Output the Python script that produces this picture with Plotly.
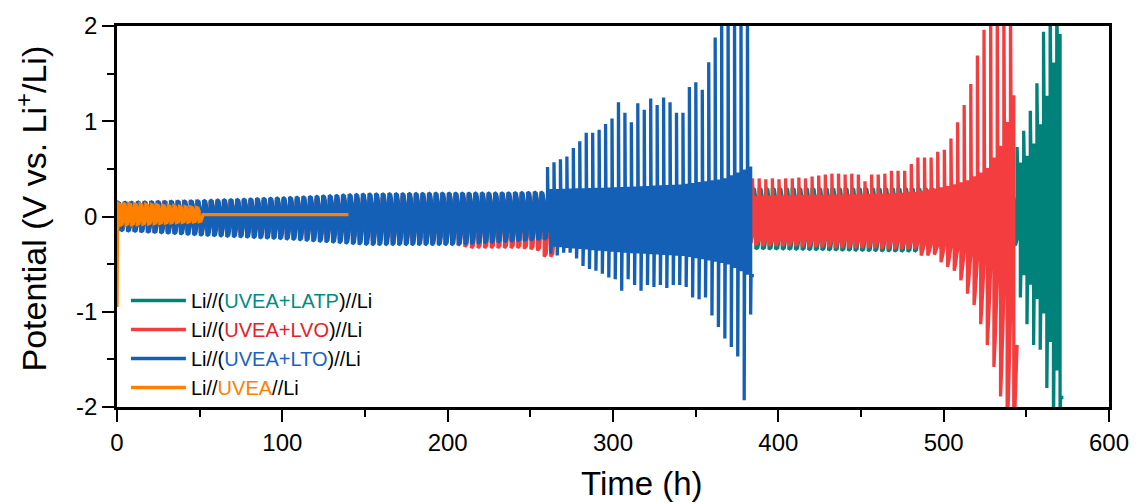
import numpy as np
import plotly.graph_objects as go

# ---------------- data ----------------
PERIOD = 4.0          # h per charge/discharge cycle (tooth spacing)

# Li//UVEA//Li (orange)
uvea_start_v   = -0.95
uvea_env_t     = [0, 25, 52]
uvea_env_up    = [0.14, 0.12, 0.09]
uvea_env_upb   = [0.07, 0.06, 0.05]
uvea_env_dn    = [-0.09, -0.07, -0.05]
uvea_env_dnb   = [-0.03, -0.03, -0.02]
uvea_period    = 3.4
uvea_cycles    = 15
uvea_short_t   = [52.0, 140.0]
uvea_short_v   = [0.02, 0.02]

# Li//(UVEA+LTO)//Li (blue) - stable part (envelope)
lto_env_t      = [0, 50, 100, 150, 200, 230, 256]
lto_env_up     = [0.15, 0.17, 0.20, 0.24, 0.25, 0.25, 0.26]
lto_env_upb    = [0.07, 0.08, 0.10, 0.13, 0.14, 0.15, 0.15]
lto_env_dn     = [-0.15, -0.20, -0.24, -0.30, -0.30, -0.27, -0.24]
lto_env_dnb    = [-0.07, -0.10, -0.12, -0.15, -0.16, -0.14, -0.14]
lto_env_cycles = 65
# blue - failing part (cycle by cycle)
lto_spk_t0     = 260.4
lto_spk_period = 3.9
lto_spk_up = [0.52, 0.57, 0.60, 0.63, 0.72, 0.79, 0.88, 0.88, 0.91, 0.97, 1.03,
              1.20, 1.09, 0.99, 1.19, 1.12, 1.24, 1.17, 1.25, 1.20, 1.09, 1.09,
              1.36, 1.41, 1.33, 1.62, 1.88, 2.3, 2.3, 2.3, 2.3, 2.3]
lto_spk_dn = [-0.39, -0.41, -0.38, -0.38, -0.44, -0.52, -0.55, -0.57, -0.60,
              -0.64, -0.66, -0.78, -0.66, -0.72, -0.78, -0.72, -0.74, -0.72,
              -0.75, -0.72, -0.72, -0.74, -0.85, -0.87, -0.85, -1.04, -1.16,
              -1.28, -1.37, -1.47, -1.93, -1.03]
lto_core_t     = [260, 300, 340, 365, 378, 386]
lto_core_up    = [0.27, 0.29, 0.32, 0.38, 0.48, 0.55]
lto_core_dn    = [-0.30, -0.36, -0.40, -0.48, -0.60, -0.65]

# Li//(UVEA+LVO)//Li (red) - stable part (envelope, mostly under blue)
lvo_env_t      = [0, 100, 200, 212, 240, 252, 256, 261, 264, 300, 384]
lvo_env_up     = [0.13, 0.18, 0.23, 0.23, 0.23, 0.23, 0.24, 0.24, 0.25, 0.25, 0.25]
lvo_env_upb    = [0.06, 0.09, 0.13, 0.13, 0.13, 0.13, 0.14, 0.14, 0.15, 0.18, 0.20]
lvo_env_dn     = [-0.13, -0.22, -0.29, -0.33, -0.33, -0.35, -0.42, -0.42, -0.28, -0.28, -0.28]
lvo_env_dnb    = [-0.06, -0.10, -0.14, -0.15, -0.15, -0.15, -0.20, -0.20, -0.20, -0.20, -0.20]
lvo_env_cycles = 96
# red - visible part (cycle by cycle)
lvo_spk_t0     = 384.4
lvo_spk_up = [0.40, 0.40, 0.39, 0.40, 0.39, 0.40, 0.40, 0.41, 0.40, 0.42, 0.43,
              0.44, 0.45, 0.45, 0.44, 0.45, 0.44, 0.37, 0.44, 0.44, 0.45, 0.48,
              0.48, 0.48, 0.55, 0.62, 0.62, 0.62, 0.68, 0.70, 0.82, 0.99, 1.17,
              1.39, 1.69, 1.96, 2.3, 2.3, 2.3, 2.3]
lvo_spk_dn = [-0.30, -0.31, -0.31, -0.31, -0.31, -0.31, -0.31, -0.32, -0.32,
              -0.32, -0.32, -0.32, -0.33, -0.33, -0.33, -0.33, -0.33, -0.33,
              -0.33, -0.34, -0.34, -0.34, -0.34, -0.34, -0.34, -0.41, -0.41,
              -0.40, -0.48, -0.53, -0.57, -0.67, -0.81, -0.93, -1.13, -1.35,
              -1.58, -1.89, -2.3, -2.3]
lvo_core_t     = [384, 420, 460, 480, 500, 512, 524, 532, 540, 545]
lvo_core_up    = [0.20, 0.21, 0.22, 0.24, 0.30, 0.36, 0.48, 0.70, 1.20, 1.90]
lvo_core_dn    = [-0.24, -0.24, -0.25, -0.27, -0.32, -0.40, -0.55, -0.80, -1.30, -1.90]

# Li//(UVEA+LATP)//Li (teal) - stable part (envelope, mostly under red)
latp_env_t     = [0, 100, 200, 380, 384, 480, 500, 544]
latp_env_up    = [0.12, 0.15, 0.18, 0.20, 0.30, 0.30, 0.30, 0.30]
latp_env_upb   = [0.06, 0.08, 0.12, 0.14, 0.18, 0.18, 0.18, 0.18]
latp_env_dn    = [-0.12, -0.18, -0.24, -0.25, -0.34, -0.37, -0.30, -0.30]
latp_env_dnb   = [-0.06, -0.08, -0.12, -0.15, -0.24, -0.24, -0.24, -0.24]
latp_env_cycles = 136
# teal - visible part (cycle by cycle)
latp_spk_t0    = 544.4
latp_spk_up    = [0.73, 0.90, 1.11, 1.40, 1.94, 2.3, 2.3]
latp_spk_dn    = [-0.85, -1.13, -1.35, -1.40, -1.80, -2.3, -2.3]
latp_core_up   = [0.55, 0.62, 0.75, 0.95, 1.25, 1.60, 1.90]
latp_core_dn   = [-0.60, -0.70, -0.85, -1.00, -1.30, -1.60, -1.90]

x_ticks = [0, 100, 200, 300, 400, 500, 600]
x_ticktext = ["0", "100", "200", "300", "400", "500", "600"]
y_ticks = [-2, -1, 0, 1, 2]
y_ticktext = ["-2", "-1", "0", "1", "2"]

# ---------------- helpers ----------------
def cycles(t0, period, up_a, up_c, dn_a, dn_c, f_up, f_dn, hold_up, hold_dn):
    """Each half cycle: jump to a, ease to b (held part) by f*h, reach c at end."""
    xs, ys = [], []
    h = period / 2.0
    for k in range(len(up_a)):
        t = t0 + k * period
        ub = up_a[k] + hold_up * (up_c[k] - up_a[k])
        db = dn_a[k] + hold_dn * (dn_c[k] - dn_a[k])
        xs += [t, t + f_up * h, t + h, t + h, t + h + f_dn * h, t + period]
        ys += [up_a[k], ub, up_c[k], dn_a[k], db, dn_c[k]]
    return xs, ys


def env_vals(t0, period, n, et, ev):
    tk = t0 + period * np.arange(n)
    return np.interp(tk, et, ev)


def env_cycles(t0, period, n, et, eu, eub, ed, edb):
    return cycles(t0, period,
                  env_vals(t0, period, n, et, eu), env_vals(t0, period, n, et, eub),
                  env_vals(t0, period, n, et, ed), env_vals(t0, period, n, et, edb),
                  0.6, 0.6, 0.15, 0.15)

# LTO
bx1, by1 = env_cycles(0.4, PERIOD, lto_env_cycles, lto_env_t, lto_env_up,
                      lto_env_upb, lto_env_dn, lto_env_dnb)
n = len(lto_spk_up)
bx2, by2 = cycles(lto_spk_t0, lto_spk_period, lto_spk_up,
                  env_vals(lto_spk_t0, lto_spk_period, n, lto_core_t, lto_core_up),
                  lto_spk_dn,
                  env_vals(lto_spk_t0, lto_spk_period, n, lto_core_t, lto_core_dn),
                  0.12, 0.12, 1.0, 1.0)
lto_x = [0.0] + bx1 + bx2
lto_y = [-0.3] + by1 + by2

# LVO
rx1, ry1 = env_cycles(0.4, PERIOD, lvo_env_cycles, lvo_env_t, lvo_env_up,
                      lvo_env_upb, lvo_env_dn, lvo_env_dnb)
n = len(lvo_spk_up)
rx2, ry2 = cycles(lvo_spk_t0, PERIOD, lvo_spk_up,
                  env_vals(lvo_spk_t0, PERIOD, n, lvo_core_t, lvo_core_up),
                  lvo_spk_dn,
                  env_vals(lvo_spk_t0, PERIOD, n, lvo_core_t, lvo_core_dn),
                  0.15, 0.35, 1.0, 0.3)
lvo_x = rx1 + rx2
lvo_y = ry1 + ry2

# LATP
tx1, ty1 = env_cycles(0.4, PERIOD, latp_env_cycles, latp_env_t, latp_env_up,
                      latp_env_upb, latp_env_dn, latp_env_dnb)
tx2, ty2 = cycles(latp_spk_t0, PERIOD, latp_spk_up, latp_core_up,
                  latp_spk_dn, latp_core_dn, 0.15, 0.15, 1.0, 1.0)
latp_x = tx1 + tx2
latp_y = ty1 + ty2

# UVEA
ox1, oy1 = env_cycles(0.4, uvea_period, uvea_cycles, uvea_env_t, uvea_env_up,
                      uvea_env_upb, uvea_env_dn, uvea_env_dnb)
uvea_x = [0.0] + ox1 + uvea_short_t
uvea_y = [uvea_start_v] + oy1 + uvea_short_v

C_LATP = "#00827A"
C_LVO = "#F43D3F"
C_LTO = "#1460B6"
C_UVEA = "#FF8000"

LW = 3.3
fig = go.Figure()
fig.add_trace(go.Scatter(x=latp_x, y=latp_y, mode="lines",
                         line=dict(color=C_LATP, width=LW, simplify=False),
                         name='Li//(<span style="color:#008C82">UVEA+LATP</span>)//Li'))
fig.add_trace(go.Scatter(x=lvo_x, y=lvo_y, mode="lines",
                         line=dict(color=C_LVO, width=LW, simplify=False),
                         name='Li//(<span style="color:#E8202A">UVEA+LVO</span>)//Li'))
fig.add_trace(go.Scatter(x=lto_x, y=lto_y, mode="lines",
                         line=dict(color=C_LTO, width=LW, simplify=False),
                         name='Li//(<span style="color:#1A64BE">UVEA+LTO</span>)//Li'))
fig.add_trace(go.Scatter(x=uvea_x, y=uvea_y, mode="lines",
                         line=dict(color=C_UVEA, width=LW, simplify=False),
                         name='Li//<span style="color:#FF8000">UVEA</span>//Li'))

axis_common = dict(showline=True, linecolor="black", linewidth=2.5, mirror=True,
                   ticks="outside", ticklen=12, tickwidth=2, tickcolor="black",
                   showgrid=False, zeroline=False,
                   tickfont=dict(family="Liberation Sans, Arial", size=24, color="black"))

fig.update_layout(
    width=1141, height=503,
    margin=dict(l=117, r=32, t=24, b=96),
    paper_bgcolor="white", plot_bgcolor="white",
    font=dict(family="Liberation Sans, Arial", color="black"),
    xaxis=dict(range=[0, 600], tickvals=x_ticks, ticktext=x_ticktext,
               minor=dict(ticks="outside", ticklen=7, tickwidth=2, tickcolor="black", dtick=50),
               **axis_common),
    yaxis=dict(range=[-2, 2], tickvals=y_ticks, ticktext=y_ticktext,
               minor=dict(ticks="outside", ticklen=7, tickwidth=2, tickcolor="black", dtick=0.5),
               **axis_common),
    legend=dict(x=0.009, y=0.0, xanchor="left", yanchor="bottom",
                bgcolor="rgba(0,0,0,0)", font=dict(size=20, color="black"),
                itemwidth=55, tracegroupgap=0),
    showlegend=True,
    annotations=[
        dict(text="Time (h)", xref="paper", yref="paper", x=(642 - 117) / 992, y=0,
             xanchor="center", yanchor="middle", yshift=-76, showarrow=False,
             font=dict(size=33, color="black")),
        dict(text="Potential (V vs. Li<sup>+</sup>/Li)", xref="paper", yref="paper",
             x=0, y=0.5, xanchor="center", yanchor="middle", xshift=-86, yshift=8,
             textangle=-90, showarrow=False, font=dict(size=34, color="black")),
    ],
)

fig.write_html("out.html")
